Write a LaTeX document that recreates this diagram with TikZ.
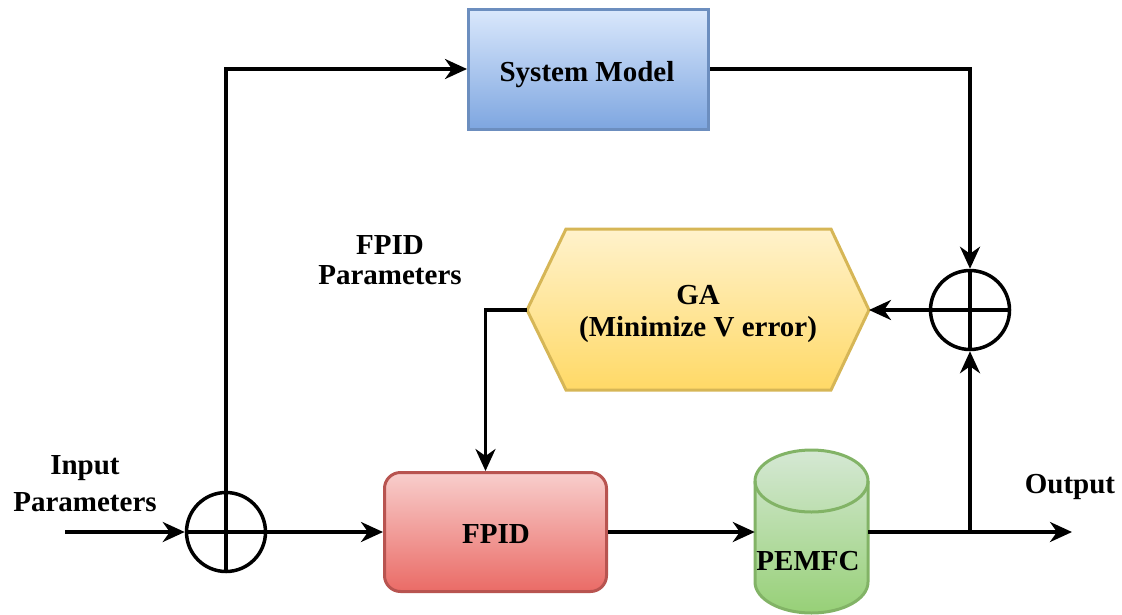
\documentclass[tikz,border=0pt]{standalone}
\usepackage{fontspec}
\setmainfont{Liberation Serif}
\usetikzlibrary{arrows.meta,calc}
\definecolor{smtop}{HTML}{DAE8FC}
\definecolor{smbot}{HTML}{7EA6E0}
\definecolor{smbrd}{HTML}{6C8EBF}
\definecolor{fptop}{HTML}{F8CECC}
\definecolor{fpbot}{HTML}{EA6B66}
\definecolor{fpbrd}{HTML}{B85450}
\definecolor{gatop}{HTML}{FFF2CC}
\definecolor{gabot}{HTML}{FFD966}
\definecolor{gabrd}{HTML}{D6B656}
\definecolor{pmtop}{HTML}{D5E8D4}
\definecolor{pmbot}{HTML}{97D077}
\definecolor{pmbrd}{HTML}{82B366}
\begin{document}
\begin{tikzpicture}[x=1pt,y=-1pt,
  conn/.style={line width=3.5pt,-{Stealth[length=22pt,width=20pt,inset=7pt]}},
  plain/.style={line width=3.5pt},
  lbl/.style={font=\bfseries\fontsize{29}{31}\selectfont,align=center,inner sep=0pt},
  sumnode/.style={circle,draw,line width=3.5pt,minimum size=79pt,inner sep=0pt,
    path picture={\draw[line width=3.5pt] (path picture bounding box.north) -- (path picture bounding box.south)
      (path picture bounding box.west) -- (path picture bounding box.east);}},
  boxnode/.style={draw,line width=3pt,inner sep=0pt}
]
\useasboundingbox (0,0) rectangle (1122,614);

% System Model
\node[boxnode,draw=smbrd,top color=smtop,bottom color=smbot,minimum width=240pt,minimum height=120pt] (sm) at (588.5,69) {};
\node[lbl,anchor=base] (smt) at (587,81) {System Model};

% FPID
\node[boxnode,draw=fpbrd,top color=fptop,bottom color=fpbot,rounded corners=16pt,minimum width=222pt,minimum height=119pt] (fpid) at (495.5,532) {};
\node[lbl,anchor=base] (fpidt) at (496,543) {FPID};

% GA hexagon
\path[draw=gabrd,line width=3pt,top color=gatop,bottom color=gabot]
  (527,310) -- (566,229) -- (831,229) -- (869,310) -- (831,390) -- (566,390) -- cycle;
\coordinate (gaL) at (527,310);
\coordinate (gaR) at (869,310);
\node[lbl,font=\bfseries\fontsize{29}{32}\selectfont] (ga) at (698,314) {GA\\(Minimize V error)};

% PEMFC cylinder
\node[minimum width=113pt,minimum height=163pt,inner sep=0pt] (pemfc) at (811.5,532) {};
\path[draw=pmbrd,line width=3pt,top color=pmtop,bottom color=pmbot]
  (755,481) -- (755,582) arc[start angle=180,end angle=360,x radius=56.5pt,y radius=31pt]
  -- (868,481) arc[start angle=0,end angle=180,x radius=56.5pt,y radius=31pt] -- cycle;
\draw[pmbrd,line width=3pt] (755,481) arc[start angle=180,end angle=360,x radius=56.5pt,y radius=31pt];
\node[lbl,anchor=base] (pemfct) at (808,570) {PEMFC};

% summing junctions
\node[sumnode] (sumL) at (226,532) {};
\node[sumnode] (sumR) at (970,310) {};

% labels
\node[lbl,font=\bfseries\fontsize{29}{37}\selectfont] (inlbl) at (85,484) {Input\\Parameters};
\node[lbl,font=\bfseries\fontsize{29}{30}\selectfont] (fplbl) at (390,260) {FPID\\Parameters};
\node[lbl,anchor=base] (outlbl) at (1070,493) {Output};

% connectors
\coordinate (in) at (65,532);
\coordinate (out) at (1072,532);
\coordinate (br) at (970,532);
\draw[conn] (in) -- (sumL.west);
\draw[conn] (sumL.east) -- (fpid.west);
\draw[conn] (fpid.east) -- (pemfc.west);
\draw[conn] (pemfc.east) -- (out);
\draw[conn] (br) -- (sumR.south);
\draw[conn] (sumL.north) |- (sm.west);
\draw[conn] (sm.east) -| (sumR.north);
\draw[conn] (sumR.west) -- (gaR);
\draw[conn] (gaL) -| ([xshift=102.5pt]fpid.north west);
\end{tikzpicture}
\end{document}
